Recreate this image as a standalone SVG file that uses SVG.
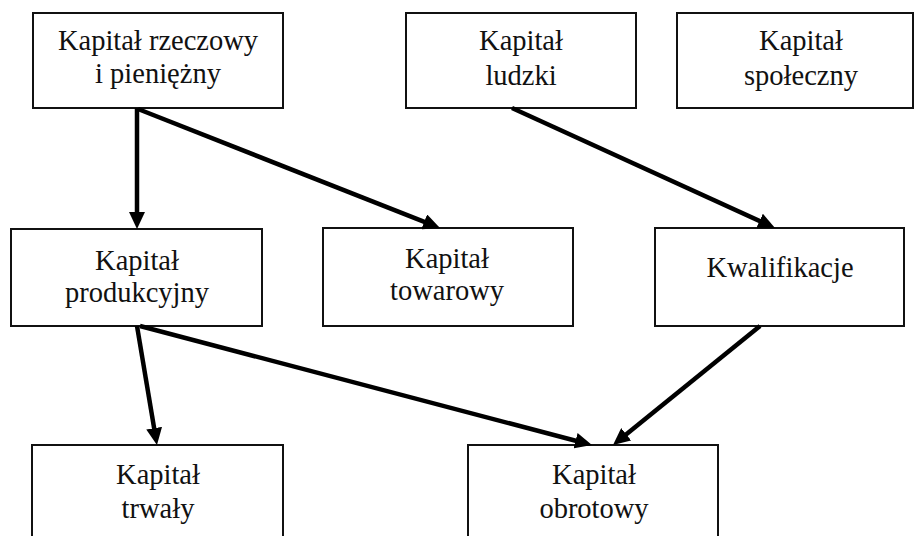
<svg xmlns="http://www.w3.org/2000/svg" width="915" height="536" viewBox="0 0 915 536">
<style>
.box{fill:#fff;stroke:#111;stroke-width:2}
.t{font-family:'Liberation Serif','DejaVu Serif',serif;font-size:28.5px;fill:#111;text-anchor:middle}
.c{stroke:#000;stroke-width:4.5;fill:none;marker-end:url(#ah)}
</style>
<defs>
<marker id="ah" markerUnits="userSpaceOnUse" markerWidth="17" markerHeight="16" refX="7" refY="8" orient="auto">
<path d="M0,0 L17,8 L0,16 z" fill="#000"/>
</marker>
</defs>
<rect width="915" height="536" fill="#fff"/>
<g id="rzeczowy">
<rect class="box" x="33" y="13" width="250" height="95"/>
<text class="t" font-family="Liberation Serif, serif" x="158" y="50">Kapitał rzeczowy</text>
<text class="t" font-family="Liberation Serif, serif" x="158" y="83">i pieniężny</text>
</g>
<g id="ludzki">
<rect class="box" x="406" y="13" width="230" height="95"/>
<text class="t" font-family="Liberation Serif, serif" x="521" y="50">Kapitał</text>
<text class="t" font-family="Liberation Serif, serif" x="521" y="85">ludzki</text>
</g>
<g id="spoleczny">
<rect class="box" x="677" y="13" width="236" height="95"/>
<text class="t" font-family="Liberation Serif, serif" x="801" y="50">Kapitał</text>
<text class="t" font-family="Liberation Serif, serif" x="801" y="85">społeczny</text>
</g>
<g id="produkcyjny">
<rect class="box" x="11" y="229" width="251" height="97"/>
<text class="t" font-family="Liberation Serif, serif" x="137" y="270">Kapitał</text>
<text class="t" font-family="Liberation Serif, serif" x="137" y="302">produkcyjny</text>
</g>
<g id="towarowy">
<rect class="box" x="323" y="228" width="250" height="98"/>
<text class="t" font-family="Liberation Serif, serif" x="447" y="268">Kapitał</text>
<text class="t" font-family="Liberation Serif, serif" x="447" y="300">towarowy</text>
</g>
<g id="kwalifikacje">
<rect class="box" x="655" y="228" width="249" height="98"/>
<text class="t" font-family="Liberation Serif, serif" x="780" y="277">Kwalifikacje</text>
</g>
<g id="trwaly">
<rect class="box" x="32" y="445" width="251" height="100"/>
<text class="t" font-family="Liberation Serif, serif" x="158" y="484">Kapitał</text>
<text class="t" font-family="Liberation Serif, serif" x="158" y="518">trwały</text>
</g>
<g id="obrotowy">
<rect class="box" x="468" y="445" width="250" height="100"/>
<text class="t" font-family="Liberation Serif, serif" x="594" y="484">Kapitał</text>
<text class="t" font-family="Liberation Serif, serif" x="594" y="518">obrotowy</text>
</g>
<g id="connectors">
<line class="c" x1="137" y1="108" x2="137" y2="219"/>
<line class="c" x1="138" y1="109" x2="430.7" y2="224.4"/>
<line class="c" x1="512" y1="108" x2="765.9" y2="223.9"/>
<line class="c" x1="137" y1="326" x2="155.3" y2="435.1"/>
<line class="c" x1="140" y1="326" x2="582.3" y2="442.5"/>
<line class="c" x1="760" y1="326" x2="620.8" y2="438.7"/>
</g>
</svg>
